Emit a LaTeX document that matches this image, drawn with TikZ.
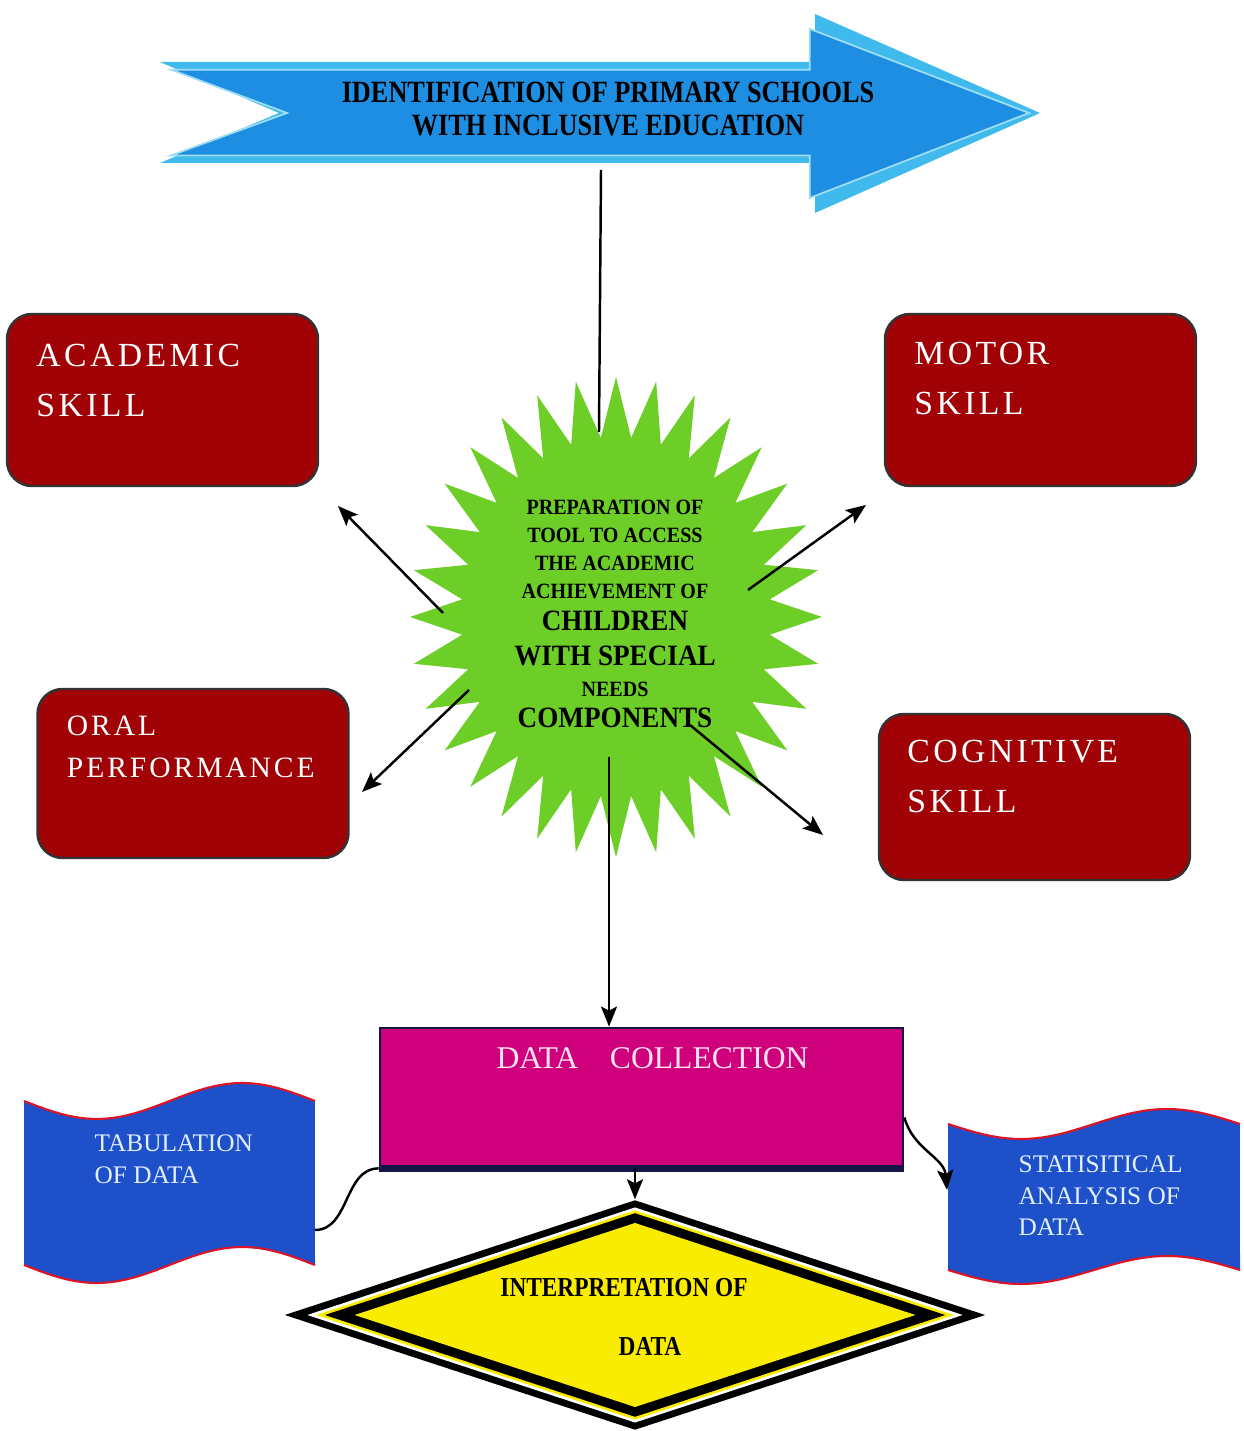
\documentclass[tikz,border=0pt]{standalone}
\usepackage{fontspec}
\setmainfont{Liberation Serif}
\newfontfamily\capsfont[LetterSpace=10]{Liberation Serif}
\newfontfamily\squeezefont[FakeStretch=0.85]{Liberation Serif}
\newfontfamily\starfont[FakeStretch=0.92]{Liberation Serif}
\usetikzlibrary{positioning,arrows.meta,shapes.geometric}

\definecolor{arrowrim}{RGB}{64,186,236}
\definecolor{arrowblue}{RGB}{30,142,226}
\definecolor{skillred}{RGB}{160,2,6}
\definecolor{stargreen}{RGB}{108,206,38}
\definecolor{datamag}{RGB}{206,0,124}
\definecolor{datatext}{RGB}{255,225,240}
\definecolor{tapeblue}{RGB}{30,80,202}
\definecolor{tapetxt}{RGB}{225,240,255}
\definecolor{tapeedge}{RGB}{220,20,40}
\definecolor{diayellow}{RGB}{250,236,0}
\definecolor{navyline}{RGB}{20,20,70}

\newcommand{\bigline}[1]{{\fontsize{8.4}{8}\selectfont #1}}

\begin{document}
\begin{tikzpicture}[
	skillbox/.style={draw=black!80, line width=0.7pt, fill=skillred, rounded corners=0.25cm, minimum width=3.11cm, minimum height=1.72cm},
	skilltext/.style={text=white, font=\capsfont\fontsize{9.6}{14}\selectfont, align=left, inner sep=0pt},
	tapetext/.style={text=tapetxt, font=\fontsize{7.2}{9}\selectfont, align=left, inner sep=0pt, anchor=north west},
	link/.style={line width=0.7pt, -{Stealth[length=2mm,width=1.6mm,inset=0.4mm]}}
	]
	\path[use as bounding box, fill=white] (0,0) rectangle (12.43,14.31);

	\fill[arrowrim] (1.60,13.69) -- (8.15,13.69) -- (8.15,14.17) -- (10.40,13.18) -- (8.15,12.18) -- (8.15,12.68) -- (1.60,12.68) -- (2.79,13.18) -- cycle;
	\begin{scope}[shift={(6.0,13.18)}, xscale=0.975, yscale=0.85, shift={(-6.0,-13.18)}]
		\filldraw[fill=arrowblue, draw=arrowrim!50!white, line width=0.5pt] (1.60,13.69) -- (8.15,13.69) -- (8.15,14.17) -- (10.40,13.18) -- (8.15,12.18) -- (8.15,12.68) -- (1.60,12.68) -- (2.79,13.18) -- cycle;
	\end{scope}
	\node[font=\squeezefont\bfseries\fontsize{8.8}{9.6}\selectfont, align=center] (ident) at (6.08,13.22) {IDENTIFICATION OF PRIMARY SCHOOLS\\WITH INCLUSIVE EDUCATION};

	\fill[stargreen] plot[domain=0:63, samples=64] ({6.16+2.06*(0.875+0.125*cos(180*\x))*cos(90+5.625*\x)}, {8.14+2.40*(0.875+0.125*cos(180*\x))*sin(90+5.625*\x)}) -- cycle;
	\node[align=center, font=\starfont\bfseries\fontsize{6.2}{8}\selectfont, inner sep=0pt] (prep) at (6.15,8.17) {%
		PREPARATION OF\\
		TOOL TO ACCESS\\
		THE ACADEMIC\\
		ACHIEVEMENT OF\\[1.1pt]
		\bigline{CHILDREN}\\[2pt]
		\bigline{WITH SPECIAL}\\[0.8pt]
		NEEDS\\[0.8pt]
		\bigline{COMPONENTS}};

	\coordinate (idfoot) at (6.01,12.61);
	\coordinate (idend) at (5.99,9.99);
	\draw[line width=0.7pt] (idfoot) -- (idend);

	\node[skillbox] (acad) at (1.625,10.31) {};
	\node[skillbox] (motor) at (10.405,10.31) {};
	\node[skillbox, minimum height=1.69cm] (oral) at (1.93,6.575) {};
	\node[skillbox, minimum height=1.66cm] (cogn) at (10.345,6.34) {};
	\node[skilltext, below right=0.31cm and 0.30cm of acad.north west] (acadtxt) {ACADEMIC\\SKILL};
	\node[skilltext, below right=0.29cm and 0.30cm of motor.north west] (motortxt) {MOTOR\\SKILL};
	\node[skilltext, font=\capsfont\fontsize{8.4}{12}\selectfont, below right=0.27cm and 0.30cm of oral.north west] (oraltxt) {ORAL\\PERFORMANCE};
	\node[skilltext, below right=0.27cm and 0.29cm of cogn.north west] (cogntxt) {COGNITIVE\\SKILL};

	\coordinate (acadfrom) at (4.43,8.18);
	\coordinate (acadto) at (3.38,9.25);
	\coordinate (motorfrom) at (7.48,8.41);
	\coordinate (motorto) at (8.66,9.26);
	\coordinate (oralfrom) at (4.69,7.41);
	\coordinate (oralto) at (3.62,6.39);
	\coordinate (cognfrom) at (6.90,7.06);
	\coordinate (cognto) at (8.23,5.96);
	\coordinate (prepfoot) at (6.09,6.74);
	\draw[link] (acadfrom) -- (acadto);
	\draw[link] (motorfrom) -- (motorto);
	\draw[link] (oralfrom) -- (oralto);
	\draw[link] (cognfrom) -- (cognto);

	\node[draw=navyline, line width=0.8pt, fill=datamag, minimum width=5.23cm, minimum height=1.39cm] (dcoll) at (6.415,3.335) {};
	\draw[navyline, line width=2pt] (dcoll.south west) -- (dcoll.south east);
	\node[text=datatext, font=\fontsize{9}{11}\selectfont, inner sep=0pt, below=0.2cm of dcoll.north, xshift=0.11cm] (dcolltxt) {DATA\quad COLLECTION};
	\draw[link] (prepfoot) -- (dcoll.north -| prepfoot);

	\fill[tapeblue] plot[domain=0:1, samples=41] ({0.24+2.91*\x},{3.30-0.18*sin(360*\x)}) -- plot[domain=1:0, samples=41] ({0.24+2.91*\x},{1.66-0.18*sin(360*\x)}) -- cycle;
	\draw[tapeedge, line width=0.6pt] plot[domain=0:1, samples=41] ({0.24+2.91*\x},{3.30-0.18*sin(360*\x)});
	\draw[tapeedge, line width=0.6pt] plot[domain=0:1, samples=41] ({0.24+2.91*\x},{1.66-0.18*sin(360*\x)});
	\fill[tapeblue] plot[domain=0:1, samples=41] ({9.48+2.92*\x},{3.07-0.15*sin(360*\x)}) -- plot[domain=1:0, samples=41] ({9.48+2.92*\x},{1.61-0.14*sin(360*\x)}) -- cycle;
	\draw[tapeedge, line width=0.6pt] plot[domain=0:1, samples=41] ({9.48+2.92*\x},{3.07-0.15*sin(360*\x)});
	\draw[tapeedge, line width=0.6pt] plot[domain=0:1, samples=41] ({9.48+2.92*\x},{1.61-0.14*sin(360*\x)});
	\node[tapetext] (tabtxt) at (0.94,2.97) {TABULATION\\OF DATA};
	\node[tapetext] (stattxt) at (10.18,2.76) {STATISITICAL\\ANALYSIS OF\\DATA};

	\coordinate (tabend) at (3.15,2.01);
	\coordinate (statend) at (9.47,2.41);
	\draw[line width=0.7pt] (dcoll.south west) to[out=180,in=0] (tabend);
	\draw[link] ([yshift=-0.2cm]dcoll.east) to[out=-75,in=95] (statend);

	\node[diamond, fill=black, inner sep=0pt, minimum width=7.01cm, minimum height=2.30cm] (interp) at (6.35,1.16) {};
	\begin{scope}[shift={(interp.center)}]
		\foreach \s/\c in {0.935/white, 0.91/diayellow, 0.885/black, 0.80/diayellow}
			\fill[\c] (-3.505*\s,0) -- (0,1.15*\s) -- (3.505*\s,0) -- (0,-1.15*\s) -- cycle;
	\end{scope}
	\node[font=\squeezefont\bfseries\fontsize{7.8}{9}\selectfont] (interptxt) at (6.24,1.43) {INTERPRETATION OF};
	\node[font=\squeezefont\bfseries\fontsize{7.8}{9}\selectfont] (interpdata) at (6.50,0.85) {DATA};
	\draw[link] (dcoll.south -| interp.north) -- (interp.north);
\end{tikzpicture}
\end{document}
